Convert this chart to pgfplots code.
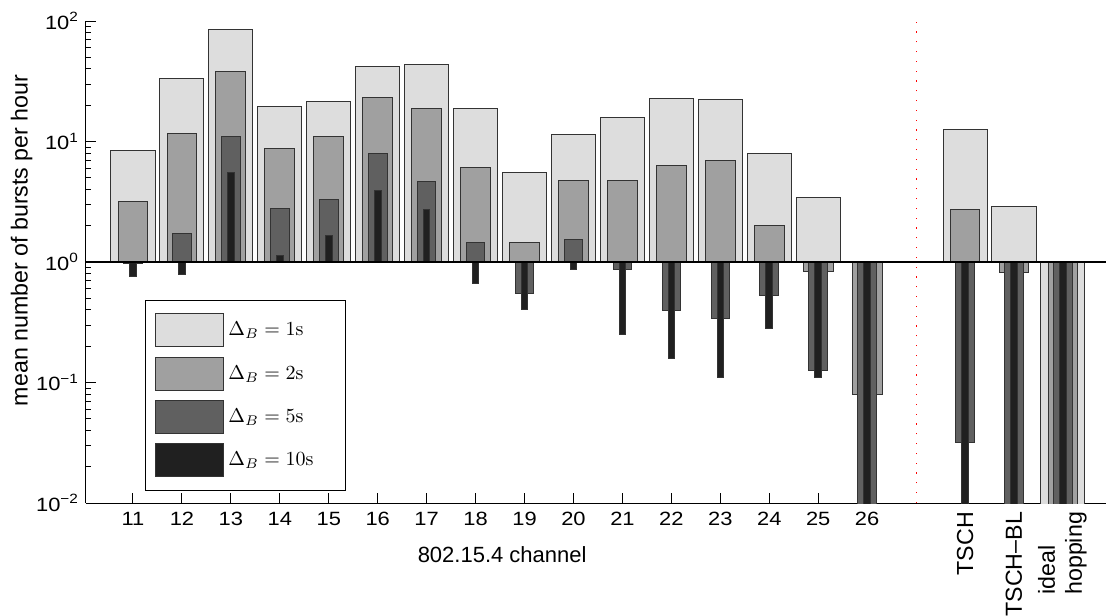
\documentclass[border=0pt]{standalone}
\usepackage[no-math]{fontspec}
\setmainfont{Liberation Sans}[FakeStretch=1.14]
\newfontfamily\rotfont{Liberation Sans}
\usepackage{graphicx}
\usepackage{pgfplots}
\pgfplotsset{compat=1.18}
\definecolor{cA}{HTML}{DDDDDD}
\definecolor{cB}{HTML}{A0A0A0}
\definecolor{cC}{HTML}{606060}
\definecolor{cD}{HTML}{202020}
\pgfplotstableread{
x   s1     s2     s5     s10
11  8.45   3.2    0.965  0.76
12  33.1   11.7   1.71   0.785
13  84.3   38.1   11.0   5.48
14  19.4   8.72   2.80   1.14
15  21.5   11.0   3.32   1.65
16  41.9   23.0   7.92   3.95
17  43.3   18.8   4.65   2.72
18  18.8   6.07   1.44   0.665
19  5.49   1.44   0.547  0.405
20  11.4   4.77   1.54   0.869
21  15.9   4.77   0.87   0.252
22  22.9   6.27   0.393  0.159
23  22.2   6.9    0.341  0.110
24  7.88   2.01   0.53   0.28
25  3.43   0.842  0.126  0.110
26  1.0    0.079  1e-4   1e-4
28  12.6   2.72   0.032  1e-4
29  2.91   0.815  1e-4   1e-4
30  1e-4   1e-4   1e-4   1e-4
}\datatable
\pgfplotsset{
  mybar/.style 2 args={ybar, bar shift=0pt, bar width=#2, fill=#1, draw=black!80, line width=0.5pt,
    legend image code/.code={\draw[fill=#1, draw=black!80, line width=0.5pt] (0pt,-8.25pt) rectangle (34pt,8.25pt);}},
}
\begin{document}
\begin{tikzpicture}
\begin{axis}[name=ax, scale only axis, width=510pt, height=241pt,
  xmin=10.04, xmax=30.88, ymode=log, ymin=1e-2, ymax=1e2,
  axis lines=left, axis line style={-, line width=0.5pt, black},
  font=\fontsize{9.6}{13.5}\selectfont,
  xtick={11,12,13,14,15,16,17,18,19,20,21,22,23,24,25,26,28,29,30},
  xticklabels={11,12,13,14,15,16,17,18,19,20,21,22,23,24,25,26,
    {\rotfont\fontsize{11.6}{14}\selectfont\rotatebox{90}{TSCH}},
    {\rotfont\fontsize{11.6}{14}\selectfont\rotatebox{90}{TSCH–BL}},
    {\rotfont\fontsize{11.6}{13.5}\selectfont\rotatebox{90}{\begin{tabular}{@{}l@{}}ideal\\hopping\end{tabular}}}},
  ytick={1e-2,1e-1,1,10,100},
  yticklabels={10\textsuperscript{−2},10\textsuperscript{−1},10\textsuperscript{0},10\textsuperscript{1},10\textsuperscript{2}},
  minor ytick={0.02,0.03,0.04,0.05,0.06,0.07,0.08,0.09,0.2,0.3,0.4,0.5,0.6,0.7,0.8,0.9,2,3,4,5,6,7,8,9,20,30,40,50,60,70,80,90},
  tick align=inside, major tick length=5pt, minor tick length=2.5pt,
  tick style={black, line width=0.5pt},
  xticklabel style={yshift=-1pt},
  xlabel={\rotfont\fontsize{11}{13}\selectfont 802.15.4 channel},
  xlabel style={at={(axis description cs:0.408,-0.108)}, anchor=center},
  ylabel={\rotfont\fontsize{11.6}{14}\selectfont mean number of bursts per hour},
  ylabel style={at={(axis description cs:-0.063,0.545)}, anchor=center},
  legend style={at={(axis description cs:0.0578,0.4212)}, anchor=north west, draw=black, line width=0.5pt,
    inner xsep=5pt, inner ysep=6.5pt, row sep=4.6pt, font=\fontsize{9.8}{11}\selectfont},
  legend cell align=left,
  clip=true,
]
\addplot[mybar={cA}{0.9}] table[x=x, y=s1] {\datatable};
\addlegendentry{$\Delta_B = 1\mathrm{s}$\rule{9pt}{0pt}}
\addplot[mybar={cB}{0.61}] table[x=x, y=s2] {\datatable};
\addlegendentry{$\Delta_B = 2\mathrm{s}$\rule{9pt}{0pt}}
\addplot[mybar={cC}{0.38}] table[x=x, y=s5] {\datatable};
\addlegendentry{$\Delta_B = 5\mathrm{s}$\rule{9pt}{0pt}}
\addplot[mybar={cD}{0.135}] table[x=x, y=s10] {\datatable};
\addlegendentry{$\Delta_B = 10\mathrm{s}$\rule{9pt}{0pt}}
\addplot[black, line width=0.6pt, forget plot] coordinates {(10.04,1) (30.88,1)};
\addplot[red, line width=0.6pt, dash pattern=on 0.6pt off 4.3pt, forget plot] coordinates {(27,0.01) (27,100)};
\end{axis}
\pgfresetboundingbox
\path ([xshift=-43pt,yshift=-56pt]ax.south west) rectangle ([yshift=10.5pt]ax.north east);
\end{tikzpicture}
\end{document}
